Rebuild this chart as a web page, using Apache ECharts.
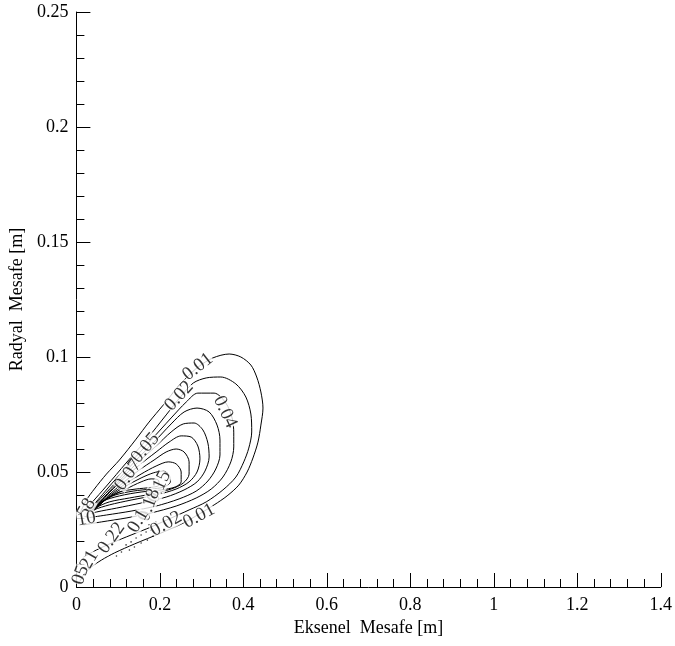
<!DOCTYPE html>
<html>
<head>
<meta charset="utf-8">
<style>
	html,body{ margin:0; padding:0; background:#fff;}
	#mainBox{ width:675px; height:646px;}
</style>
<script src="https://cdn.jsdelivr.net/npm/echarts@6/dist/echarts.min.js"></script>
</head>
<body>
<div id="mainBox"></div>
<script>
// contour lines, [axial, radial] in m
var c001=[[0.010,0.0326],[0.024,0.0378],[0.043,0.0426],[0.072,0.0491],[0.103,0.0552],[0.143,0.0643],[0.174,0.0717],[0.208,0.0791],[0.239,0.0861],[0.263,0.0909],[0.292,0.0957],[0.327,0.0996],[0.366,0.1013],[0.394,0.1000],[0.418,0.0965],[0.432,0.0913],[0.442,0.0848],[0.447,0.0778],[0.442,0.0704],[0.435,0.0630],[0.423,0.0561],[0.409,0.0500],[0.389,0.0443],[0.361,0.0396],[0.330,0.0357],[0.294,0.0317],[0.256,0.0278],[0.203,0.0235],[0.139,0.0187],[0.091,0.0148],[0.060,0.0117],[0.036,0.0087],[0.017,0.0052],[0.005,0.0013]];
var c002=[[0.014,0.0322],[0.036,0.0365],[0.072,0.0439],[0.119,0.0539],[0.167,0.0639],[0.215,0.0748],[0.251,0.0830],[0.280,0.0887],[0.311,0.0909],[0.346,0.0913],[0.382,0.0883],[0.406,0.0826],[0.418,0.0752],[0.420,0.0674],[0.413,0.0604],[0.401,0.0544],[0.382,0.0478],[0.351,0.0422],[0.311,0.0370],[0.270,0.0335],[0.227,0.0300],[0.179,0.0261],[0.131,0.0226],[0.084,0.0191],[0.048,0.0161],[0.017,0.0130]];
var c004=[[0.017,0.0313],[0.041,0.0357],[0.084,0.0448],[0.131,0.0544],[0.179,0.0639],[0.227,0.0735],[0.263,0.0804],[0.291,0.0843],[0.330,0.0843],[0.358,0.0800],[0.373,0.0735],[0.377,0.0670],[0.377,0.0609],[0.370,0.0544],[0.351,0.0478],[0.323,0.0426],[0.287,0.0387],[0.239,0.0352],[0.179,0.0322],[0.119,0.0300],[0.060,0.0283],[0.017,0.0270]];
var c005=[[0.022,0.0317],[0.048,0.0365],[0.091,0.0448],[0.139,0.0544],[0.186,0.0630],[0.227,0.0709],[0.258,0.0761],[0.289,0.0778],[0.318,0.0761],[0.337,0.0704],[0.344,0.0639],[0.344,0.0574],[0.334,0.0513],[0.315,0.0461],[0.287,0.0417],[0.246,0.0383],[0.191,0.0352],[0.131,0.0330],[0.072,0.0313],[0.024,0.0300]];
var c006=[[0.026,0.0317],[0.053,0.0365],[0.096,0.0448],[0.143,0.0535],[0.191,0.0613],[0.227,0.0674],[0.256,0.0709],[0.282,0.0713],[0.303,0.0683],[0.315,0.0626],[0.318,0.0565],[0.308,0.0504],[0.289,0.0457],[0.258,0.0422],[0.215,0.0391],[0.155,0.0365],[0.096,0.0343],[0.048,0.0326],[0.026,0.0313]];
var c007=[[0.031,0.0322],[0.057,0.0370],[0.100,0.0448],[0.148,0.0526],[0.191,0.0587],[0.222,0.0630],[0.251,0.0657],[0.275,0.0652],[0.291,0.0613],[0.296,0.0557],[0.289,0.0500],[0.270,0.0457],[0.239,0.0426],[0.191,0.0400],[0.131,0.0378],[0.079,0.0357],[0.041,0.0335],[0.031,0.0322]];
var c008=[[0.036,0.0326],[0.062,0.0374],[0.105,0.0443],[0.151,0.0509],[0.186,0.0552],[0.215,0.0587],[0.239,0.0600],[0.258,0.0587],[0.270,0.0544],[0.270,0.0491],[0.256,0.0452],[0.227,0.0426],[0.179,0.0404],[0.127,0.0387],[0.079,0.0370],[0.045,0.0343],[0.036,0.0326]];
var c010=[[0.041,0.0330],[0.067,0.0378],[0.110,0.0439],[0.155,0.0491],[0.191,0.0526],[0.220,0.0544],[0.239,0.0535],[0.251,0.0500],[0.251,0.0457],[0.237,0.0435],[0.203,0.0422],[0.155,0.0413],[0.103,0.0396],[0.060,0.0370],[0.041,0.0330]];
var c012=[[0.045,0.0339],[0.072,0.0383],[0.115,0.0435],[0.155,0.0474],[0.184,0.0496],[0.208,0.0504],[0.222,0.0487],[0.225,0.0457],[0.210,0.0435],[0.179,0.0426],[0.136,0.0417],[0.093,0.0400],[0.060,0.0370],[0.045,0.0339]];
var c015=[[0.050,0.0348],[0.076,0.0387],[0.119,0.0426],[0.155,0.0457],[0.179,0.0470],[0.196,0.0465],[0.198,0.0443],[0.179,0.0433],[0.143,0.0426],[0.103,0.0413],[0.069,0.0378],[0.050,0.0348]];
var contours=[c001,c002,c004,c005,c006,c007,c008,c010,c012,c015];

// broken-up bits of the 0.02 line near the inlet
var speckles=[[0.119,0.0183],[0.131,0.0196],[0.143,0.0213],[0.155,0.0226],[0.167,0.0239],[0.179,0.0248],[0.127,0.0161],[0.139,0.0174],[0.155,0.0191],[0.170,0.0204],[0.184,0.0222],[0.196,0.0235],[0.108,0.0152],[0.151,0.0257],[0.174,0.0270],[0.191,0.0283],[0.096,0.0135]];

// contour level labels
var labelText=['0.01','0.01','0.02','0.02','0.04','0.05','0.07','0.15','0.18','0.1','0.22','21','05','58','10'];
var labelAt=[[0.291,0.0957],[0.294,0.0309],[0.246,0.0830],[0.215,0.0274],[0.356,0.0761],[0.165,0.0604],[0.124,0.0487],[0.198,0.0435],[0.174,0.0357],[0.148,0.0287],[0.084,0.0213],[0.031,0.0117],[0.010,0.0052],[0.024,0.0343],[0.024,0.0296]];
var labelAngle=[38,28,47,30,-65,50,55,65,70,60,55,60,70,60,10];

var xTicks=[0,1.4,0.2];
var yTicks=[0,0.25,0.05];

var fontF='"Liberation Serif", "Times New Roman", serif';
var myChart=echarts.init(document.getElementById('mainBox'),null,{renderer:'canvas'});

var series=[];
for(var i=0;i<contours.length;i++){
	series.push({
		type:'line',
		data:contours[i],
		showSymbol:false,
		smooth:0.3,
		silent:true,
		z:2,
		lineStyle:{color:'#000',width:1}
	});
}
series.push({
	type:'scatter',
	data:speckles,
	symbolSize:1.6,
	silent:true,
	z:3,
	itemStyle:{color:'#000'}
});
var lbl=[];
for(var j=0;j<labelText.length;j++){
	lbl.push({
		name:labelText[j],
		value:labelAt[j],
		label:{rotate:labelAngle[j]}
	});
}
series.push({
	type:'scatter',
	data:lbl,
	symbolSize:0,
	silent:true,
	z:5,
	label:{
		show:true,
		position:'inside',
		formatter:'{b}',
		color:'#000',
		fontFamily:fontF,
		fontSize:19,
		backgroundColor:'#fff',
		padding:[0,0,0,0],
		lineHeight:15
	}
});

var axisCommon={
	type:'value',
	nameLocation:'middle',
	nameTextStyle:{color:'#000',fontFamily:fontF,fontSize:18},
	axisLine:{show:true,onZero:false,lineStyle:{color:'#000',width:1}},
	axisTick:{show:true,inside:true,length:14,lineStyle:{color:'#000',width:1}},
	minorTick:{show:true,splitNumber:5,length:8,lineStyle:{color:'#000',width:1}},
	splitLine:{show:false},
	axisLabel:{color:'#000',fontFamily:fontF,fontSize:18}
};

myChart.setOption({
	animation:false,
	backgroundColor:'#fff',
	grid:{left:75,right:14,top:12,bottom:59,containLabel:false},
	xAxis:echarts.util.merge({
		min:xTicks[0],max:xTicks[1],interval:xTicks[2],
		name:'Eksenel  Mesafe [m]',
		nameGap:30,
		axisLabel:{margin:9}
	},axisCommon),
	yAxis:echarts.util.merge({
		min:yTicks[0],max:yTicks[1],interval:yTicks[2],
		name:'Radyal  Mesafe [m]',
		nameGap:48,
		axisLabel:{margin:8}
	},axisCommon),
	series:series
});
</script>
</body>
</html>
